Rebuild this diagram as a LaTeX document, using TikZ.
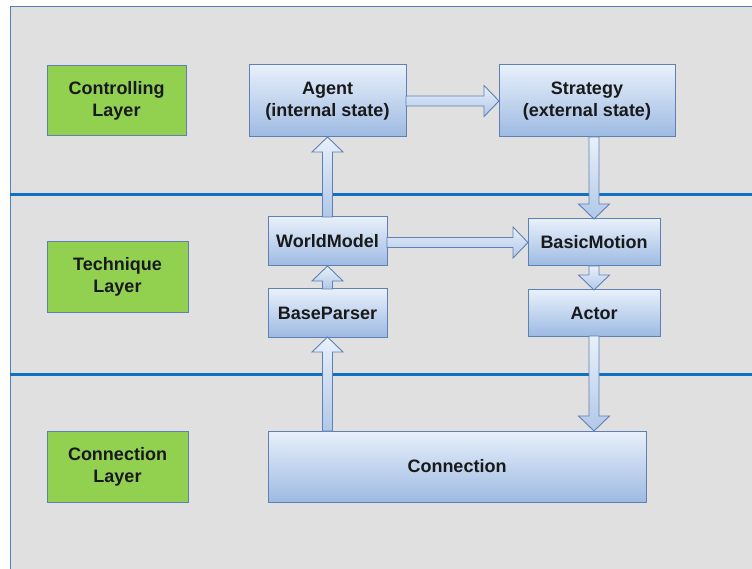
\documentclass[tikz,border=0pt]{standalone}
\usepackage{fontspec}
\setmainfont{Liberation Sans}
\usetikzlibrary{calc}
\definecolor{BgGray}{RGB}{224,224,224}
\definecolor{BgLine}{RGB}{90,125,185}
\definecolor{LayerLine}{RGB}{15,112,196}
\definecolor{LayerGreen}{RGB}{146,208,80}
\definecolor{BoxTop}{RGB}{232,240,251}
\definecolor{BoxBottom}{RGB}{157,186,226}
\definecolor{BoxLine}{RGB}{95,128,180}
\definecolor{TextCol}{RGB}{25,25,25}
\tikzstyle{LayerBox}=[rectangle,draw=BoxLine,fill=LayerGreen,line width=1pt,inner sep=0pt,
outer sep=0pt,align=center,text=TextCol,font=\bfseries\fontsize{18}{22}\selectfont]
\tikzstyle{ModBox}=[rectangle,draw=BoxLine,top color=BoxTop,bottom color=BoxBottom,line width=1pt,
inner sep=0pt,outer sep=0pt,align=center,text=TextCol,font=\bfseries\fontsize{18}{22}\selectfont]
\tikzstyle{ArrowBody}=[draw=BoxLine,top color=BoxTop,bottom color=BoxBottom!80,line width=0.9pt,
line join=miter]
\newcommand\FatArrow[2]{%
  \coordinate (fa-h) at ($(#2)!15pt!(#1)$);
  \draw[ArrowBody] ($(#1)!5pt!90:(#2)$) -- ($(fa-h)!5pt!90:(#2)$) -- ($(fa-h)!15.5pt!90:(#2)$)
    -- (#2) -- ($(fa-h)!15.5pt!-90:(#2)$) -- ($(fa-h)!5pt!-90:(#2)$) -- ($(#1)!5pt!-90:(#2)$) -- cycle;}
\begin{document}
\begin{tikzpicture}[x=1pt,y=-1pt]
        \useasboundingbox (0,0) rectangle (752,569);
        \fill[white] (0,0) rectangle (752,569);
        \draw[BgLine,fill=BgGray,line width=0.8pt] (10,6) rectangle (760,580);
        \draw[LayerLine,line width=3pt] (10,195) -- (756,195);
        \draw[LayerLine,line width=3pt] (10,374) -- (756,374);
        % layers
        \node[LayerBox,minimum width=139pt,minimum height=70pt](ctrl)at(116.5,101){Controlling\\Layer};
        \node[LayerBox,minimum width=141pt,minimum height=70pt](tech)at(117.5,277){Technique\\Layer};
        \node[LayerBox,minimum width=141pt,minimum height=71pt](conl)at(117.5,466.5){Connection\\Layer};
        % modules
        \node[ModBox,minimum width=157pt,minimum height=72pt](agent)at(327.5,101){Agent\\(internal state)};
        \node[ModBox,minimum width=176pt,minimum height=72pt](strategy)at(587,101){Strategy\\(external state)};
        \node[ModBox,minimum width=119pt,minimum height=49pt](world)at(327.5,241.5){WorldModel};
        \node[ModBox,minimum width=132pt,minimum height=47pt](basic)at(594,242.5){BasicMotion};
        \node[ModBox,minimum width=119pt,minimum height=48pt](parser)at(327.5,313){BaseParser};
        \node[ModBox,minimum width=132pt,minimum height=46pt](actor)at(594,313){Actor};
        \node[ModBox,minimum width=378pt,minimum height=71pt](connection)at(457,466.5){Connection};
        % arrows
        \coordinate(sb)at(strategy.south -| basic.north);
        \coordinate(wb)at(basic.west -| world.east);
        \coordinate(cp)at(parser.south |- connection.north);
        \coordinate(ac)at(actor.south |- connection.north);
        \FatArrow{agent.east}{strategy.west}
        \FatArrow{world.north}{agent.south}
        \FatArrow{sb}{basic.north}
        \FatArrow{wb}{basic.west}
        \FatArrow{parser.north}{world.south}
        \FatArrow{basic.south}{actor.north}
        \FatArrow{cp}{parser.south}
        \FatArrow{actor.south}{ac}
    \end{tikzpicture}
\end{document}
